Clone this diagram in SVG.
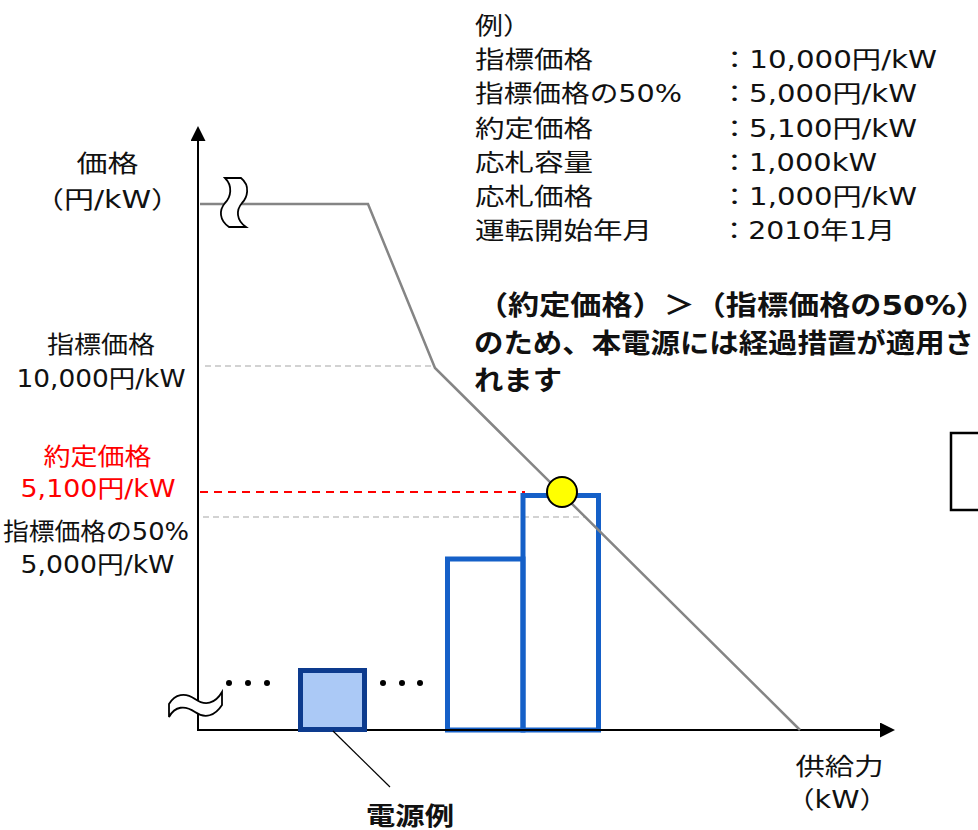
<svg xmlns="http://www.w3.org/2000/svg" width="978" height="830" viewBox="0 0 978 830">
<style>
text{font-family:"DejaVu Sans","Noto Sans CJK JP",sans-serif;font-size:24px;fill:#111;}
.b{font-weight:bold;font-size:27px;}
.r{fill:#ff0000;}
.m{text-anchor:middle;}
.axis{stroke:#000;stroke-width:2;fill:none;}
.bar{fill:none;stroke:#1560c8;stroke-width:5;}
.gd{stroke:#c4c4c4;stroke-width:1.5;stroke-dasharray:6 4;fill:none;}
</style>
<defs>
<marker id="ah" viewBox="0 0 10 10" refX="0" refY="5" markerWidth="15" markerHeight="15" markerUnits="userSpaceOnUse" orient="auto"><path d="M0,0 L10,5 L0,10 Z" fill="#000"/></marker>
</defs>
<rect width="978" height="830" fill="#fff"/>

<g id="guides">
<line class="gd" x1="205" y1="366" x2="432" y2="366"/>
<line class="gd" x1="203" y1="517" x2="585" y2="517"/>
<line x1="200" y1="492" x2="525" y2="492" stroke="#ff0000" stroke-width="2" stroke-dasharray="8 6"/>
</g>

<g id="bars">
<rect class="bar" x="447.5" y="559" width="75.5" height="171"/>
<rect class="bar" x="523" y="495.5" width="75.5" height="234.5"/>
</g>

<g id="axes">
<line class="axis" x1="198" y1="731" x2="198" y2="141" marker-end="url(#ah)"/>
<line class="axis" x1="198" y1="730" x2="880" y2="730" marker-end="url(#ah)"/>
</g>

<g id="price-curve">
<polyline points="200,204 368,204 435,368 800,730" fill="none" stroke="#858585" stroke-width="2.5"/>
</g>

<g id="break-top">
<path d="M225,178 L241,178 C251,186 247,198 242,203 C236,210 236,220 246,227 L229,227 C219,220 219,210 225,203 C231,197 233,186 225,178 Z" fill="#fff" stroke="#000" stroke-width="1.8"/>
</g>
<g id="break-bottom">
<path d="M169,704 C175,694 185,692 195,699 C205,706 215,704 222,692 L222,705 C215,716 205,719 195,712 C185,705 175,706 169,717 Z" fill="#fff" stroke="#000" stroke-width="1.8"/>
</g>

<g id="dots" fill="#000">
<circle cx="229" cy="683" r="3"/><circle cx="248" cy="683" r="3"/><circle cx="267" cy="683" r="3"/>
<circle cx="383" cy="683" r="3"/><circle cx="402" cy="683" r="3"/><circle cx="420" cy="683" r="3"/>
</g>

<g id="source-example">
<rect x="300.5" y="670.5" width="64" height="59" fill="#abc9f6" stroke="#0d3b8e" stroke-width="5"/>
</g>

<g id="contract-point">
<circle cx="562" cy="492" r="15" fill="#ffff00" stroke="#000" stroke-width="2"/>
</g>

<g id="edge-box">
<rect x="951" y="433" width="60" height="77" fill="#fff" stroke="#000" stroke-width="2.5"/>
</g>

<g id="connectors">
<line x1="333" y1="731" x2="390" y2="787" stroke="#000" stroke-width="1.2"/>
</g>

<g id="label-yaxis">
<text class="m" x="107.5" y="172" textLength="62" lengthAdjust="spacingAndGlyphs">価格</text>
<text class="m" x="107.5" y="208" textLength="147" lengthAdjust="spacingAndGlyphs">（円/kW）</text>
</g>
<g id="label-index">
<text class="m" x="101" y="353" textLength="108" lengthAdjust="spacingAndGlyphs">指標価格</text>
<text class="m" x="101" y="387" textLength="169" lengthAdjust="spacingAndGlyphs">10,000円/kW</text>
</g>
<g id="label-contract">
<text class="m r" x="97.5" y="465" textLength="108" lengthAdjust="spacingAndGlyphs">約定価格</text>
<text class="m r" x="98" y="497" textLength="155" lengthAdjust="spacingAndGlyphs">5,100円/kW</text>
</g>
<g id="label-half">
<text class="m" x="96" y="540" textLength="186" lengthAdjust="spacingAndGlyphs">指標価格の50%</text>
<text class="m" x="97.5" y="573" textLength="154" lengthAdjust="spacingAndGlyphs">5,000円/kW</text>
</g>
<g id="label-xaxis">
<text class="m" x="839.5" y="775" textLength="88" lengthAdjust="spacingAndGlyphs">供給力</text>
<text class="m" x="837" y="808" textLength="102" lengthAdjust="spacingAndGlyphs">（kW）</text>
</g>
<g id="label-source">
<text class="m b" x="410" y="825" style="font-size:25px" textLength="88" lengthAdjust="spacingAndGlyphs">電源例</text>
</g>

<g id="example-table">
<text x="475" y="33.5" textLength="56" lengthAdjust="spacingAndGlyphs">例）</text>
<text x="475" y="68" textLength="118" lengthAdjust="spacingAndGlyphs">指標価格</text>
<text x="475" y="102" textLength="207" lengthAdjust="spacingAndGlyphs">指標価格の50%</text>
<text x="475" y="136.5" textLength="118" lengthAdjust="spacingAndGlyphs">約定価格</text>
<text x="475" y="170.5" textLength="118" lengthAdjust="spacingAndGlyphs">応札容量</text>
<text x="475" y="205" textLength="118" lengthAdjust="spacingAndGlyphs">応札価格</text>
<text x="475" y="238.5" textLength="177" lengthAdjust="spacingAndGlyphs">運転開始年月</text>
<text x="720" y="68" textLength="217" lengthAdjust="spacingAndGlyphs">：10,000円/kW</text>
<text x="720" y="102" textLength="197" lengthAdjust="spacingAndGlyphs">：5,000円/kW</text>
<text x="720" y="136.5" textLength="197" lengthAdjust="spacingAndGlyphs">：5,100円/kW</text>
<text x="720" y="170.5" textLength="157" lengthAdjust="spacingAndGlyphs">：1,000kW</text>
<text x="720" y="205" textLength="197" lengthAdjust="spacingAndGlyphs">：1,000円/kW</text>
<text x="720" y="238.5" textLength="175" lengthAdjust="spacingAndGlyphs">：2010年1月</text>
</g>

<g id="note">
<text class="b" x="477" y="315" textLength="510" lengthAdjust="spacingAndGlyphs">（約定価格）＞（指標価格の50%）</text>
<text class="b" x="474" y="353" textLength="500" lengthAdjust="spacingAndGlyphs">のため、本電源には経過措置が適用さ</text>
<text class="b" x="474" y="390" textLength="88" lengthAdjust="spacingAndGlyphs">れます</text>
</g>
</svg>
